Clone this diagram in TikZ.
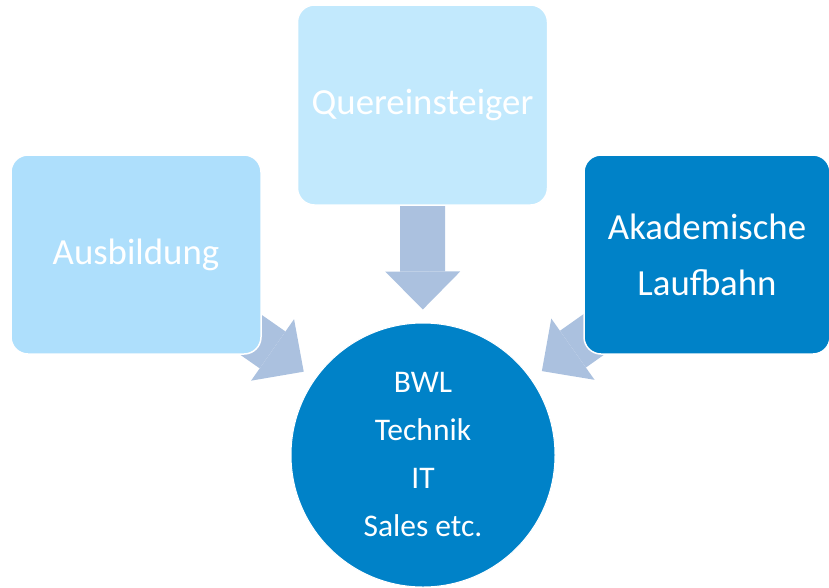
\documentclass[tikz,border=0pt]{standalone}
\usepackage{fontspec}
\setmainfont{Carlito}
\usetikzlibrary{arrows.meta,backgrounds}
\definecolor{palebox}{RGB}{174,223,252}
\definecolor{paleboxb}{RGB}{194,233,253}
\definecolor{darkbox}{RGB}{0,130,200}
\definecolor{arrowblue}{RGB}{171,193,223}

\begin{document}
\begin{tikzpicture}[x=1pt,y=-1pt,
      path/.style={rectangle, rounded corners=17pt, draw=white, line width=1.5pt,
        minimum width=250pt, minimum height=199pt, inner sep=0pt, text=white,
        align=center, font=\fontsize{36.8}{56}\selectfont},
      core/.style={circle, fill=darkbox, draw=white, line width=1pt, minimum size=264pt,
        inner sep=0pt, text=white, align=center, font=\fontsize{31.5}{48}\selectfont},
      flow/.style={arrowblue, line width=45pt, shorten >=13pt,
        -{Triangle[length=38pt,width=75pt,line width=0pt]}}]
      \useasboundingbox (0,0) rectangle (829,587);
      \node[path,fill=palebox](aus) at (136,254.5){Ausbildung};
      \node[path,fill=paleboxb,minimum height=200pt](quer) at (422.5,105){Quereinsteiger};
      \node[path,fill=darkbox,minimum width=246pt](akad) at (707,254.5){Akademische\\Laufbahn};
      \node[core](job) at (423,455){BWL\\Technik\\IT\\Sales etc.};
      \begin{scope}[on background layer]
        \draw[flow] (aus.center) -- (job);
        \draw[flow] (quer.center) -- (job);
        \draw[flow] (akad.center) -- (job);
      \end{scope}
    \end{tikzpicture}
\end{document}
